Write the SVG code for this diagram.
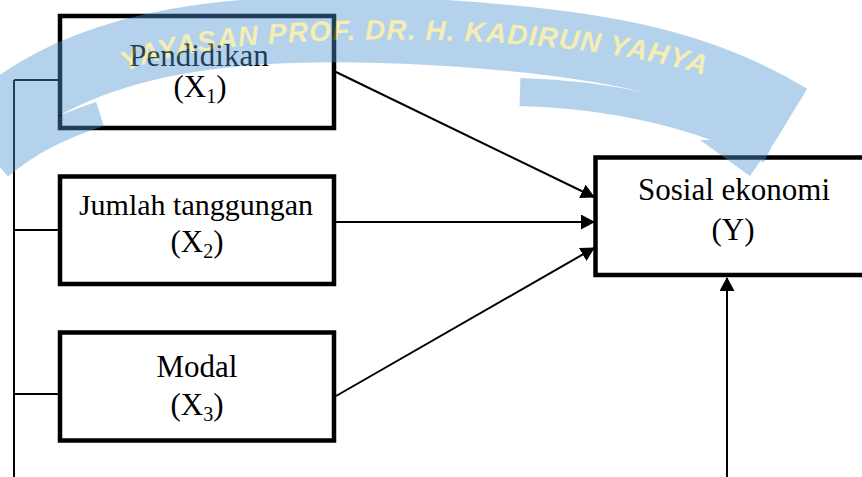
<svg xmlns="http://www.w3.org/2000/svg" width="862" height="477" viewBox="0 0 862 477">
  <style>
    .box { fill: none; stroke: #000; stroke-width: 4.5; }
    .lbl { font-family: "Liberation Serif", "Times New Roman", "DejaVu Serif", serif; font-size: 31px; fill: #000; text-anchor: middle; }
    .sub { font-size: 20px; }
    .conn { stroke: #000; stroke-width: 2; fill: none; }
    .wm-band { fill: none; stroke: #4f95d3; }
    .wm-text { font-family: "Liberation Sans", Arial, sans-serif; font-style: italic; font-weight: bold; font-size: 28px; fill: #e6d84a; }
  </style>
  <defs>
    <marker id="arrow" markerUnits="userSpaceOnUse" markerWidth="14" markerHeight="15" refX="13" refY="7.5" orient="auto">
      <path d="M0,0 L14,7.5 L0,15 z" fill="#000"/>
    </marker>
    <path id="wmArc" d="M 122,74 C 200,28 560,28 700,74"/>
  </defs>
  <rect width="862" height="477" fill="#fff"/>

  <g id="connectors">
    <line class="conn" x1="14" y1="80" x2="14" y2="477"/>
    <line class="conn" x1="14" y1="80" x2="60" y2="80"/>
    <line class="conn" x1="14" y1="230" x2="60" y2="230"/>
    <line class="conn" x1="14" y1="394" x2="60" y2="394"/>
    <line class="conn" x1="336" y1="72" x2="594" y2="197" marker-end="url(#arrow)"/>
    <line class="conn" x1="336" y1="222" x2="594" y2="222" marker-end="url(#arrow)"/>
    <line class="conn" x1="336" y1="396" x2="594" y2="248" marker-end="url(#arrow)"/>
    <line class="conn" stroke-width="2.5" x1="727" y1="477" x2="727" y2="278" marker-end="url(#arrow)"/>
  </g>

  <g id="node-x1">
    <rect class="box" x="60" y="16" width="274" height="112"/>
    <text class="lbl" x="199" y="66">Pendidikan</text>
    <text class="lbl" x="200" y="97">(X<tspan class="sub" dy="6">1</tspan><tspan dy="-6">)</tspan></text>
  </g>

  <g id="node-x2">
    <rect class="box" x="60" y="176.5" width="274" height="107.5"/>
    <text class="lbl" x="196" y="215" style="font-size:30px">Jumlah tanggungan</text>
    <text class="lbl" x="197" y="252">(X<tspan class="sub" dy="6">2</tspan><tspan dy="-6">)</tspan></text>
  </g>

  <g id="node-x3">
    <rect class="box" x="60" y="332.5" width="274" height="108"/>
    <text class="lbl" x="197" y="377">Modal</text>
    <text class="lbl" x="197" y="415">(X<tspan class="sub" dy="6">3</tspan><tspan dy="-6">)</tspan></text>
  </g>

  <g id="node-y">
    <rect class="box" stroke-width="5" x="595.5" y="157.5" width="320" height="117.5"/>
    <text class="lbl" x="734" y="200">Sosial ekonomi</text>
    <text class="lbl" x="733" y="240">(Y)</text>
  </g>

  <g id="watermark" opacity="0.42">
    <path class="wm-band" stroke-width="66" d="M -20,134 C 80,34 250,22 430,32 C 600,42 700,62 790,117"/>
    <path class="wm-band" stroke-width="28" d="M 520,92 C 620,95 700,115 770,150"/>
    <path class="wm-band" stroke-width="25" d="M 0,167 C 30,142 60,127 100,114"/>
    <polygon points="700,140 775,140 750,176" fill="#4f95d3"/>
    <text class="wm-text"><textPath href="#wmArc" startOffset="4" textLength="585" lengthAdjust="spacing">YAYASAN PROF. DR. H. KADIRUN YAHYA</textPath></text>
  </g>
</svg>
